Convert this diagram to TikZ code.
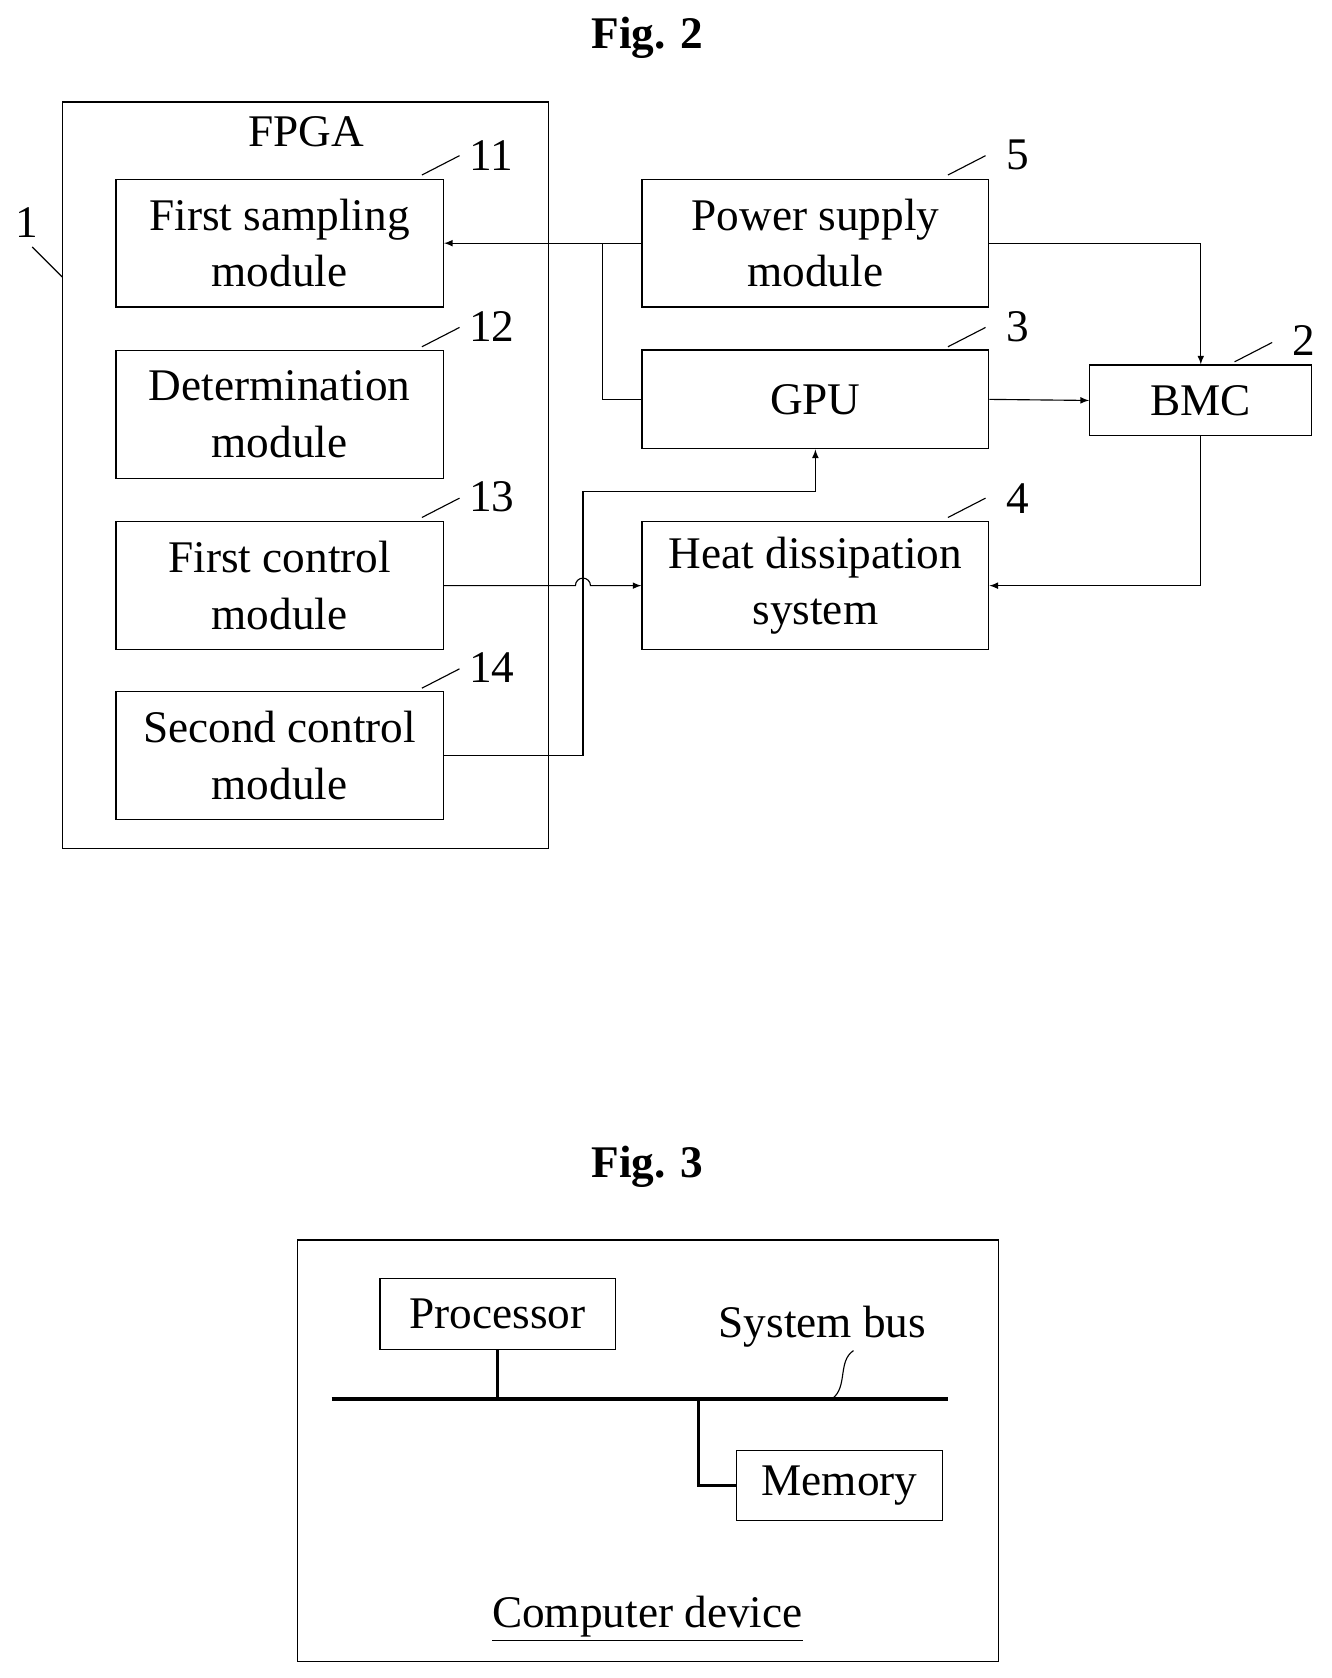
\documentclass[tikz,border=0pt]{standalone}
\usepackage{fontspec}
\setmainfont{Liberation Serif}
\usetikzlibrary{positioning}
\tikzstyle{fig-box}=[rectangle, draw=black, line width=0.6pt, align=center, inner sep=0pt,
                     font=\fontsize{24}{30}\selectfont]
\tikzstyle{fig-num}=[font=\fontsize{24}{30}\selectfont, inner sep=0pt]
\tikzstyle{fig-title}=[font=\fontsize{24}{30}\selectfont\bfseries, inner sep=0pt]
\begin{document}
\begin{tikzpicture}[x=0.02cm, y=-0.02cm, line width=0.6pt]
    \useasboundingbox (0,0) rectangle (1240,1563);
    % Fig. 2
    % --------------------------------------------------------------------------
    \node at (603, 35) (title_two) [fig-title] {Fig. 2};
    \node at (284.5,442.5) (fpga) [fig-box, minimum width=453*0.02cm, minimum height=695*0.02cm] {};
    \node at (285,123) (fpga_text) [fig-num] {FPGA};
    \node at (25,207) (num_1) [fig-num] {1};

    \node at (260.5,226.5) (sampling) [fig-box, minimum width=305*0.02cm, minimum height=119*0.02cm] {First sampling\\module};
    \node at (260.5,386)   (determ)   [fig-box, minimum width=305*0.02cm, minimum height=119*0.02cm] {Determination\\module};
    \node at (260.5,545.5) (control_one) [fig-box, minimum width=305*0.02cm, minimum height=119*0.02cm] {First control\\module};
    \node at (260.5,703.5) (control_two) [fig-box, minimum width=305*0.02cm, minimum height=119*0.02cm] {Second control\\module};
    \node at (458,145) (num_11) [fig-num] {11};
    \node at (458,304) (num_12) [fig-num] {12};
    \node at (458,463) (num_13) [fig-num] {13};
    \node at (458,622) (num_14) [fig-num] {14};

    \node at (759.5,226.5) (power) [fig-box, minimum width=323*0.02cm, minimum height=119*0.02cm] {Power supply\\module};
    \node at (759.5,372)   (gpu)   [fig-box, minimum width=323*0.02cm, minimum height=92*0.02cm] {GPU};
    \node at (759.5,545.5) (heat)  [fig-box, minimum width=323*0.02cm, minimum height=119*0.02cm] {Heat dissipation\\system};
    \node at (1118.5,373)  (bmc)   [fig-box, minimum width=207*0.02cm, minimum height=66*0.02cm] {BMC};
    \node at (948,144) (num_5) [fig-num] {5};
    \node at (948,304) (num_3) [fig-num] {3};
    \node at (948,464) (num_4) [fig-num] {4};
    \node at (1214,317) (num_2) [fig-num] {2};

    % Leaders
    \draw (30,230) -- (58,258);
    \draw (393,163) -- (428,145);
    \draw (393,323) -- (428,305);
    \draw (393,482) -- (428,464);
    \draw (393,641) -- (428,623);
    \draw (883,163) -- (918,145);
    \draw (883,323) -- (918,305);
    \draw (883,482) -- (918,464);
    \draw (1150,337) -- (1185,319);

    % Arrows
    \coordinate (split) at (561,226.5);
    \coordinate (jump) at (543,545.5);
    \draw[-latex] (power.west) -- (sampling.east);
    \draw (split) |- (gpu.west);
    \draw[-latex] (power.east) -| (bmc.north);
    \draw[-latex] (gpu.east) -- (bmc.west);
    \draw[-latex] (bmc.south) |- (heat.east);
    \draw[-latex] (control_one.east) -- ([xshift=-4pt]jump) arc[start angle=180, end angle=0, radius=4pt] -- (heat.west);
    \draw[-latex] (control_two.east) -| (543,458) -| (gpu.south);

    % Fig. 3
    % --------------------------------------------------------------------------
    \node at (603,1087) (title_three) [fig-title] {Fig. 3};
    \node at (603.5,1351.5) (device) [fig-box, minimum width=653*0.02cm, minimum height=393*0.02cm] {};
    \node at (603,1508) (device_text) [fig-num] {\underline{Computer device}};
    \node at (463.5,1224) (processor) [fig-box, minimum width=219*0.02cm, minimum height=66*0.02cm] {Processor};
    \node at (782,1383.5) (memory) [fig-box, minimum width=192*0.02cm, minimum height=65*0.02cm] {Memory};
    \node at (766,1236) (bus_text) [fig-num] {System bus};
    \coordinate (bus_l) at (309,1303);
    \coordinate (bus_r) at (883,1303);
    \draw[line width=2.2pt] (bus_l) -- (bus_r);
    \draw[line width=1.6pt] (processor.south) -- (463.5,1303);
    \draw[line width=1.6pt] (651,1303) |- (memory.west);
    \draw (795,1258) .. controls (780,1268) and (790,1292) .. (775,1303);
\end{tikzpicture}
\end{document}
